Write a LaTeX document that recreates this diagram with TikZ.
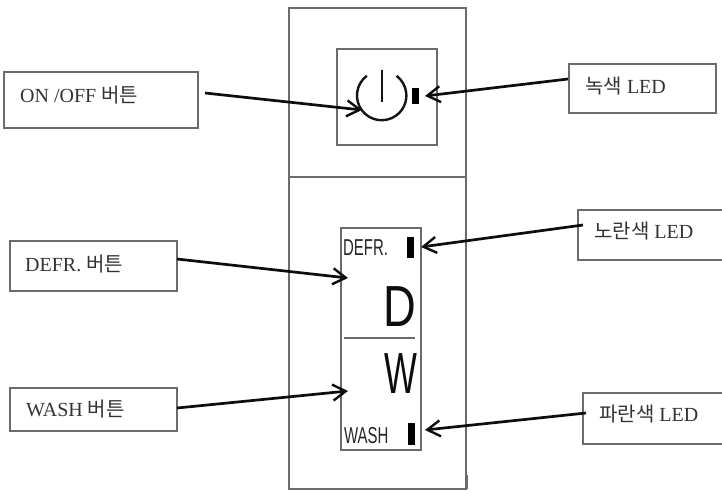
\documentclass[tikz,border=0pt]{standalone}
\usepackage{fontspec}
\setmainfont{Liberation Serif}
\setsansfont{Liberation Sans}
\newfontfamily\cjk{Noto Sans CJK KR}
\usetikzlibrary{arrows.meta}
\definecolor{boxgray}{gray}{0.42}
\tikzset{x=1pt,y=-1pt,
 panel/.style={draw=boxgray,line width=1.1pt,inner sep=0pt},
 callout/.style={draw=boxgray,line width=1.4pt,inner sep=0pt},
 lbl/.style={anchor=base west,inner sep=0pt,font=\fontsize{20}{20}\selectfont,text=black!80},
 ptr/.style={line width=2.7pt,draw=black!95,-{Straight Barb[length=13pt,width=16pt,line width=2.4pt]}},
 led/.style={fill=black,draw=none,inner sep=0pt},
 small text/.style={inner sep=0pt,anchor=west,font=\sffamily\fontsize{23}{23}\selectfont,text=black!85,xscale=.65},
 big text/.style={inner sep=0pt,font=\sffamily\fontsize{58}{58}\selectfont,text=black!95}}
\newcommand{\kr}[1]{{\cjk\fontsize{20}{20}\selectfont #1}}
\begin{document}
\begin{tikzpicture}
\useasboundingbox (0,0) rectangle (722,491);
\fill[white] (0,0) rectangle (722,491);
% panels
\draw[panel] (289,8) rectangle (466,489);
\draw[panel] (289,177) -- (466,177);
\draw[boxgray,line width=1.6pt] (467,475) -- (467,489);
\node[panel,minimum width=100pt,minimum height=96pt] (power) at (387,97) {};
\node[panel,minimum width=80pt,minimum height=222pt] (disp) at (381,339) {};
\draw[panel] (344,338) -- (415,338);
% power symbol
\draw[line width=2.4pt,black!92] (366.8,75.8) arc[start angle=233,end angle=-53,radius=24.7];
\draw[line width=2.2pt,black!92] (382,70) -- (382,102);
% LEDs
\node[led,minimum width=7pt,minimum height=16pt] (gled) at (415.5,96) {};
\node[led,minimum width=7pt,minimum height=21pt] (yled) at (410.5,247.5) {};
\node[led,minimum width=7pt,minimum height=22pt] (bled) at (411.5,434) {};
% panel text
\node[small text] (dl) at (343,248) {DEFR.};
\node[small text] (wl) at (344,435.5) {WASH};
\node[big text,xscale=.78] (dd) at (400,307) {D};
\node[big text,xscale=.6] (ww) at (400.5,374) {W};
% callouts
\node[callout,minimum width=194pt,minimum height=56pt] (onoff) at (101,100) {};
\node[lbl] (t1) at (20,102) {ON /OFF \kr{버튼}};
\node[callout,minimum width=147pt,minimum height=49pt] (green) at (642.5,88.5) {};
\node[lbl] (t2) at (585,93) {\kr{녹색} LED};
\node[callout,minimum width=146pt,minimum height=50pt] (yellow) at (651,235) {};
\node[lbl] (t3) at (594,238) {\kr{노란색} LED};
\node[callout,minimum width=167pt,minimum height=50pt] (defr) at (93.5,266) {};
\node[lbl] (t4) at (25,271) {DEFR. \kr{버튼}};
\node[callout,minimum width=167pt,minimum height=43pt] (wash) at (93.5,409.5) {};
\node[lbl] (t5) at (26,416) {WASH \kr{버튼}};
\node[callout,minimum width=140pt,minimum height=51pt] (blue) at (653,418.5) {};
\node[lbl] (t6) at (599,421) {\kr{파란색} LED};
% connector ends
\coordinate (a1) at (205,93); \coordinate (a1e) at (362,110);
\coordinate (a2) at (568,79); \coordinate (a2e) at (425,96);
\coordinate (a3) at (583,225); \coordinate (a3e) at (421,247);
\coordinate (a4) at (177,259); \coordinate (a4e) at (348,278);
\coordinate (a5) at (177,408); \coordinate (a5e) at (348,391);
\coordinate (a6) at (586,413); \coordinate (a6e) at (425,430);
\draw[ptr] (a1) -- (a1e);
\draw[ptr] (a2) -- (a2e);
\draw[ptr] (a3) -- (a3e);
\draw[ptr] (a4) -- (a4e);
\draw[ptr] (a5) -- (a5e);
\draw[ptr] (a6) -- (a6e);
\end{tikzpicture}
\end{document}
